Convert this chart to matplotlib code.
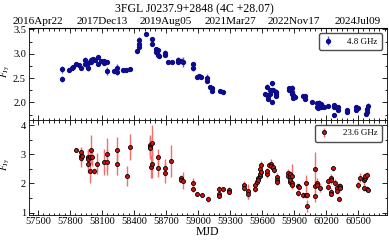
import numpy as np
import matplotlib
matplotlib.use("Agg")
import matplotlib.pyplot as plt
from matplotlib.ticker import MultipleLocator, AutoMinorLocator

plt.rcParams['font.family'] = ['Liberation Serif', 'DejaVu Serif']
plt.rcParams['mathtext.fontset'] = 'stix'

title = "3FGL J0237.9+2848 (4C +28.07)"

# 4.8 GHz
mjd_48 = [57728, 57728, 57788, 57822, 57826, 57853, 57882, 57906, 57943, 57943,
          57972, 57972, 57997, 57997, 58018, 58037, 58060, 58060, 58091, 58122,
          58122, 58150, 58150, 58210, 58238, 58238, 58300, 58325, 58362, 58425,
          58450, 58450, 58450, 58512, 58571, 58571, 58603, 58603, 58622, 58622,
          58630, 58690, 58690, 58721, 58753, 58815, 58815, 58840, 58862, 58956,
          58956, 58993, 59012, 59025, 59087, 59087, 59112, 59134, 59134, 59206,
          59237, 59625, 59644, 59644, 59659, 59659, 59675, 59675, 59690, 59690,
          59690, 59706, 59731, 59731, 59731, 59856, 59856, 59878, 59878, 59878,
          59893, 59893, 59909, 59981, 60003, 60003, 60071, 60112, 60112, 60127,
          60127, 60136, 60152, 60152, 60162, 60184, 60220, 60274, 60274, 60274,
          60293, 60315, 60315, 60393, 60393, 60480, 60480, 60502, 60574, 60587,
          60587, 60596]
f_48 = [2.68, 2.49, 2.66, 2.71, 2.73, 2.78, 2.76, 2.70, 2.87, 2.78,
        2.81, 2.70, 2.88, 2.84, 2.90, 2.87, 2.93, 2.80, 2.85, 2.85,
        2.82, 2.83, 2.65, 2.65, 2.70, 2.62, 2.66, 2.66, 2.68, 3.05,
        3.29, 3.21, 3.14, 3.40, 3.31, 3.21, 3.09, 3.03, 3.07, 2.98,
        2.95, 3.02, 2.97, 2.83, 2.83, 2.88, 2.83, 2.85, 2.83, 2.78,
        2.70, 2.52, 2.54, 2.53, 2.51, 2.44, 2.32, 2.29, 2.24, 2.23,
        2.21, 2.17, 2.32, 2.15, 2.13, 2.08, 2.25, 2.17, 2.25, 2.39,
        2.01, 2.26, 2.22, 2.17, 2.13, 2.30, 2.25, 2.30, 2.17, 2.22,
        2.15, 2.10, 2.11, 2.13, 2.13, 2.08, 2.02, 1.91, 1.98, 1.91,
        1.88, 1.99, 1.91, 1.97, 1.93, 1.91, 1.93, 1.91, 1.95, 1.74,
        1.90, 1.90, 1.85, 1.84, 1.81, 1.90, 1.85, 1.88, 1.76, 1.86,
        1.81, 1.93]
e_48 = [0.07, 0.06, 0.04, 0.05, 0.04, 0.04, 0.04, 0.03, 0.06, 0.05,
        0.06, 0.05, 0.05, 0.05, 0.04, 0.04, 0.04, 0.04, 0.04, 0.04,
        0.04, 0.05, 0.08, 0.04, 0.08, 0.05, 0.04, 0.03, 0.03, 0.03,
        0.05, 0.05, 0.05, 0.04, 0.04, 0.05, 0.05, 0.05, 0.05, 0.05,
        0.04, 0.05, 0.04, 0.04, 0.04, 0.05, 0.04, 0.04, 0.10, 0.05,
        0.05, 0.03, 0.03, 0.03, 0.08, 0.04, 0.03, 0.03, 0.03, 0.02,
        0.02, 0.04, 0.05, 0.05, 0.05, 0.04, 0.05, 0.04, 0.05, 0.06,
        0.04, 0.04, 0.05, 0.04, 0.04, 0.04, 0.04, 0.05, 0.05, 0.04,
        0.04, 0.04, 0.04, 0.03, 0.04, 0.03, 0.03, 0.04, 0.05, 0.04,
        0.04, 0.06, 0.04, 0.04, 0.04, 0.03, 0.03, 0.04, 0.04, 0.04,
        0.04, 0.04, 0.04, 0.03, 0.03, 0.04, 0.04, 0.03, 0.04, 0.05,
        0.04, 0.05]

# 23.6 GHz
mjd_236 = [57853, 57900, 57900, 57900, 57908, 57966, 57966, 57966, 57988, 57988,
           57997, 58003, 58025, 58056, 58122, 58150, 58150, 58238, 58238, 58331,
           58362, 58550, 58550, 58550, 58566, 58556, 58572, 58628, 58628, 58690,
           58690, 58747, 58837, 58837, 58862, 58956, 58956, 58993, 59040, 59090,
           59200, 59200, 59200, 59231, 59290, 59290, 59433, 59433, 59471, 59471,
           59534, 59534, 59550, 59565, 59565, 59580, 59580, 59580, 59587, 59587,
           59649, 59649, 59668, 59684, 59684, 59700, 59700, 59715, 59737, 59737,
           59737, 59846, 59846, 59862, 59862, 59862, 59862, 59878, 59878, 59884,
           59940, 59940, 59950, 59986, 60010, 60010, 60020, 60025, 60096, 60096,
           60096, 60118, 60118, 60143, 60220, 60220, 60246, 60246, 60246, 60246,
           60267, 60283, 60303, 60303, 60318, 60318, 60334, 60334, 60502, 60518,
           60556, 60556, 60565, 60565, 60580, 60580, 60596]
f_236 = [3.16, 3.06, 2.95, 2.86, 2.95, 2.89, 2.83, 2.66, 2.89, 2.41,
         3.15, 2.89, 2.42, 2.68, 2.74, 3.02, 2.74, 3.13, 2.68, 2.25,
         3.25, 3.31, 3.26, 3.20, 3.40, 2.57, 2.68, 2.89, 2.53, 2.54,
         2.36, 2.77, 2.19, 2.13, 2.09, 2.02, 1.80, 1.64, 1.59, 1.45,
         1.80, 1.62, 1.58, 1.80, 1.77, 1.71, 1.94, 1.85, 1.73, 1.65,
         1.96, 1.80, 2.05, 2.17, 2.12, 2.25, 2.33, 2.48, 2.39, 2.64,
         2.31, 2.42, 2.63, 2.68, 2.60, 2.51, 2.57, 2.45, 2.22, 2.11,
         2.06, 2.34, 2.26, 2.31, 2.22, 2.06, 2.11, 2.26, 2.00, 1.94,
         1.91, 1.68, 1.88, 1.60, 1.60, 2.00, 1.23, 1.60, 2.49, 1.90,
         1.57, 2.02, 1.94, 1.85, 2.08, 1.88, 2.17, 2.11, 1.71, 1.65,
         2.51, 2.00, 1.83, 1.73, 1.91, 1.48, 1.92, 1.85, 1.94, 2.19,
         2.11, 1.85, 2.19, 2.26, 2.28, 1.80, 1.77]
e_236 = [0.06, 0.20, 0.25, 0.30, 0.20, 0.30, 0.30, 0.30, 0.25, 0.40,
         0.50, 0.30, 0.10, 0.35, 0.45, 0.55, 0.45, 0.45, 0.40, 0.35,
         0.45, 0.30, 0.40, 0.35, 0.60, 0.40, 0.50, 0.30, 0.30, 0.30,
         0.35, 0.55, 0.08, 0.08, 0.30, 0.15, 0.10, 0.05, 0.05, 0.10,
         0.10, 0.08, 0.08, 0.08, 0.10, 0.08, 0.15, 0.10, 0.25, 0.20,
         0.15, 0.10, 0.10, 0.10, 0.10, 0.10, 0.10, 0.15, 0.10, 0.12,
         0.12, 0.12, 0.10, 0.15, 0.10, 0.10, 0.10, 0.10, 0.12, 0.10,
         0.10, 0.15, 0.10, 0.12, 0.12, 0.15, 0.10, 0.40, 0.12, 0.12,
         0.10, 0.10, 0.10, 0.10, 0.10, 0.30, 0.20, 0.10, 0.58, 0.20,
         0.20, 0.15, 0.10, 0.15, 0.10, 0.10, 0.15, 0.12, 0.12, 0.10,
         0.10, 0.15, 0.12, 0.10, 0.10, 0.08, 0.10, 0.10, 0.15, 0.15,
         0.15, 0.10, 0.10, 0.10, 0.12, 0.10, 0.08]

top_tick_mjd = [57500, 58100, 58700, 59300, 59900, 60500]
top_tick_labels = ['2016Apr22', '2017Dec13', '2019Aug05', '2021Mar27', '2022Nov17', '2024Jul09']
bottom_ticks = [57500, 57800, 58100, 58400, 58700, 59000, 59300, 59600, 59900, 60200, 60500]

fig = plt.figure(figsize=(3.89, 2.43), dpi=100)
left, right = 0.074, 0.994
mid, top, bot = 0.506, 0.883, 0.117
ax1 = fig.add_axes([left, mid, right - left, top - mid])
ax2 = fig.add_axes([left, bot, right - left, mid - bot], sharex=ax1)

fs = 7.5
ax1.errorbar(mjd_48, f_48, yerr=e_48, fmt='o', color='#0c0c8c', ms=2.8,
             ecolor='#4a5cf0', elinewidth=1.0, capsize=0, label='4.8 GHz', zorder=3)
ax2.errorbar(mjd_236, f_236, yerr=e_236, fmt='o', mfc='#d01010', mec='black', mew=0.6,
             ms=2.9, ecolor='#f07070', elinewidth=1.0, capsize=0, label='23.6 GHz', zorder=3)

ax1.set_xlim(57413, 60769)
ax1.set_ylim(1.64, 3.52)
ax2.set_ylim(0.93, 4.17)

ax1.yaxis.set_major_locator(MultipleLocator(0.5))
ax1.yaxis.set_minor_locator(AutoMinorLocator(2))
ax2.yaxis.set_major_locator(MultipleLocator(1))
ax2.yaxis.set_minor_locator(AutoMinorLocator(2))
ax2.set_xticks(bottom_ticks)
ax2.set_xticklabels([str(t) for t in bottom_ticks])
ax2.xaxis.set_minor_locator(MultipleLocator(50))

for ax in (ax1, ax2):
    ax.tick_params(which='both', direction='in', top=True, right=True, labelsize=fs,
                   width=0.6, pad=2)
    ax.tick_params(which='major', length=3.5)
    ax.tick_params(which='minor', length=1.8)
    for s in ax.spines.values():
        s.set_linewidth(0.6)
    ax.set_ylabel(r'$F_{\rm Jy}$', fontsize=7)
    ax.yaxis.set_label_coords(-0.048, 0.535)
    ax.legend(loc='upper right', fontsize=6.5, handlelength=1.0, handletextpad=1.6,
              borderpad=0.5, frameon=True, fancybox=True, edgecolor='0.3', framealpha=1)

ax1.tick_params(labelbottom=False)
ax2.set_xlabel('MJD', fontsize=8.5, labelpad=0)

sec = ax1.secondary_xaxis('top')
sec.set_xticks(top_tick_mjd)
sec.set_xticklabels(top_tick_labels)
sec.tick_params(direction='in', length=0, labelsize=8, pad=2)

fig.text(0.5, 0.985, title, ha='center', va='top', fontsize=8.5)

fig.savefig('out.png', dpi=100)
